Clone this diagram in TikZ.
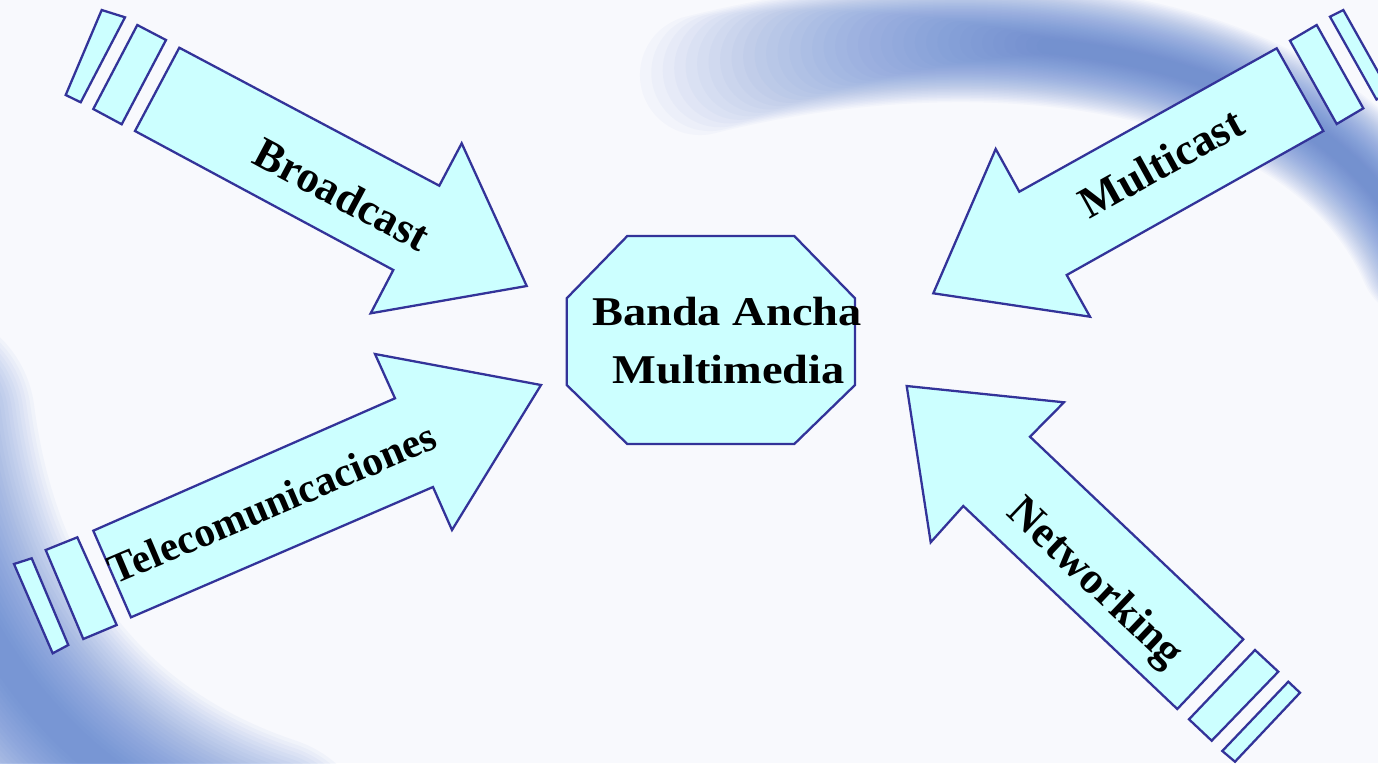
\documentclass[tikz,border=0pt]{standalone}
\usepackage{fontspec}
\usepackage{graphicx}
\setmainfont{Liberation Serif}
\definecolor{bg}{HTML}{F8F9FD}
\definecolor{swoosh}{HTML}{4F78CE}
\definecolor{shapefill}{HTML}{CCFFFF}
\definecolor{shapeline}{HTML}{333399}
\tikzset{
  part/.style={fill=shapefill, draw=shapeline, line width=0.65pt, line join=miter},
  arrowlabel/.style={font=\bfseries\fontsize{12.6}{14}\selectfont, text=black, inner sep=0pt},
  centerlabel/.style={font=\bfseries\fontsize{13.2}{15}\selectfont, text=black, inner sep=0pt, anchor=base},
}
\begin{document}
\begin{tikzpicture}[x=0.01cm,y=-0.01cm]
\useasboundingbox (0,0) rectangle (1378,763);
\begin{scope}
  \clip (0,0) rectangle (1378,763);
  \fill[bg] (0,0) rectangle (1378,763);
  % top-right swoosh (soft, tapered band)
  \foreach \i in {0,...,35}{
    \pgfmathsetmacro\lw{1.2-0.03*\i}
    \pgfmathsetmacro\ts{0.011*\i}
    \draw[swoosh, opacity=0.037, line width=\lw cm, line cap=round]
      plot[domain=\ts:1, samples=60, variable=\t]
      ({(1-\t)^3*700 + 3*(1-\t)^2*\t*1000 + 3*(1-\t)*\t^2*1330 + \t^3*1420},
       {(1-\t)^3*75 + 3*(1-\t)*\t^2*50 + \t^3*260});
  }
  % bottom-left swoosh
  \foreach \i in {0,...,27}{
    \pgfmathsetmacro\lw{2.3-0.075*\i}
    \draw[swoosh, opacity=0.045, line width=\lw cm, line cap=round]
      (-80,420) .. controls (-50,650) and (80,790) .. (260,850);
  }
\end{scope}

% Broadcast
\draw[part] (101.7,10) -- (125,17.3) -- (80.7,102.3) -- (65.7,95) -- cycle;
\draw[part] (137.3,25) -- (166,40) -- (121.7,124.3) -- (93.3,109) -- cycle;
\draw[part] (179.3,47.7) -- (439.3,185.7) -- (461.7,143.3) -- (526.7,286) -- (370.7,313.3) -- (393.3,270) -- (135,131) -- cycle;
\node[arrowlabel, rotate=-28] (broadcast) at (342,194) {Broadcast};

% Multicast
\draw[part] (1290,40.7) -- (1316.7,25) -- (1363.3,108.3) -- (1336.7,124) -- cycle;
\draw[part] (1330,16.7) -- (1343.3,10) -- (1389.8,92.8) -- (1376.5,99.5) -- cycle;
\draw[part] (933.3,293.3) -- (995.7,149) -- (1019.3,191.7) -- (1276.7,48.3) -- (1323.3,131) -- (1066.7,275) -- (1090,316.7) -- cycle;
\node[arrowlabel, rotate=29] (multicast) at (1161,163) {Multicast};

% Telecomunicaciones
\draw[part] (14,564) -- (31.7,558.3) -- (68.3,645) -- (52.7,653.3) -- cycle;
\draw[part] (45.7,550) -- (77.3,537.3) -- (116.7,625) -- (83.3,639) -- cycle;
\draw[part] (93.3,530.7) -- (395,398.3) -- (375,354) -- (541,385) -- (452,530) -- (433,487) -- (131,617.3) -- cycle;
\node[arrowlabel, font=\bfseries\fontsize{11.8}{13}\selectfont, rotate=23] (telecom) at (272,503) {Telecomunicaciones};

% Networking
\draw[part] (906.7,386) -- (1064,402.3) -- (1030,436.7) -- (1243.3,639.3) -- (1177.3,709) -- (963.3,506) -- (930.7,542.3) -- cycle;
\draw[part] (1255,650) -- (1278.3,671.7) -- (1211.7,740.7) -- (1189,719.3) -- cycle;
\draw[part] (1288.3,681.7) -- (1300,692.7) -- (1235,761.7) -- (1222.3,751) -- cycle;
\node[arrowlabel, rotate=-43.5] (networking) at (1094,584) {Networking};

% Center octagon
\draw[part] (627.3,236) -- (794.3,236) -- (855,298.3) -- (855,385) -- (794.3,444) -- (627.3,444) -- (566.7,385) -- (566.7,298.3) -- cycle;
\node[centerlabel] (banda) at (727,325) {\scalebox{1}[0.88]{Banda Ancha}};
\node[centerlabel] (multimedia) at (728.5,383) {\scalebox{1}[0.88]{Multimedia}};
\end{tikzpicture}
\end{document}
